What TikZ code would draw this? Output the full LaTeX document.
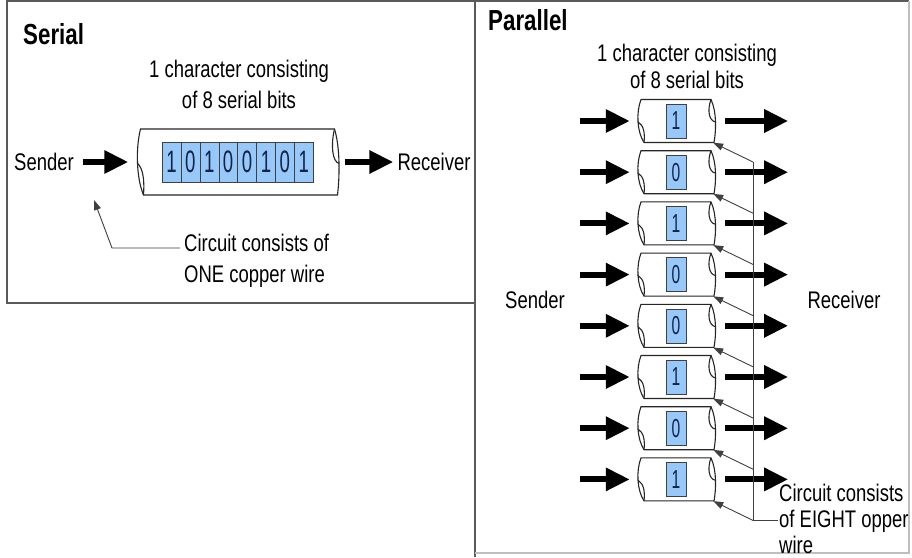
\documentclass[tikz,border=0pt]{standalone}
\usepackage{fontspec}
\setmainfont[FakeStretch=0.77]{Liberation Sans}
\newfontfamily\bitfont[FakeStretch=0.6]{Liberation Sans}
\usetikzlibrary{arrows.meta}
\definecolor{cellblue}{RGB}{150,200,250}
\definecolor{panelgray}{RGB}{90,90,90}
\definecolor{bitink}{RGB}{20,35,70}
\newcommand{\drawcable}[3]{%
  \begin{scope}[shift={(#1.center)}]
    \draw[cableline, fill=white] (-#2,-#3) -- (#2,-#3)
      .. controls (#2+6,-0.4*#3) and (#2+5,0.5*#3) .. (#2+3,#3)
      -- (-#2+3,#3)
      .. controls (-#2-4,0.5*#3) and (-#2-5,-0.4*#3) .. cycle;
    \draw[cableline] (#2,-#3) .. controls (#2-4,-0.5*#3) and (#2-2,0) .. (#2+4.5,0.04*#3);
    \draw[cableline] (-#2-3,0.04*#3) .. controls (-#2+3,0.2*#3) and (-#2+4,0.6*#3) .. (-#2+3,#3);
  \end{scope}}
\begin{document}
\begin{tikzpicture}
  [
    x=1pt, y=-1pt,
    panel/.style={draw=panelgray, line width=1.2pt},
    txt/.style={font=\fontsize{24}{31}\selectfont, inner sep=1pt},
    heading/.style={font=\bfseries\fontsize{29}{29}\selectfont, inner sep=0pt, anchor=west},
    cableline/.style={draw=black!85, line width=1.1pt},
    sbit/.style={draw=black!75, fill=cellblue, minimum width=18.9pt, minimum height=40pt,
      inner sep=0pt, text=bitink, font=\bitfont\fontsize{31}{31}\selectfont},
    pbit/.style={draw=black!75, fill=cellblue, minimum width=20pt, minimum height=34pt,
      inner sep=0pt, text=bitink, font=\bitfont\fontsize{26}{26}\selectfont},
    fatarrow/.style={line width=6pt, -{Triangle[length=24pt,width=22pt]}},
    pointer/.style={draw=black!75, line width=0.9pt, -{Triangle[length=10pt,width=7pt]}},
    wire/.style={draw=black!75, line width=0.9pt}
  ]
  \useasboundingbox[fill=white] (0,0) rectangle (912,557);
  \draw[panel] (7,1) rectangle (475,303);
  \draw[panel] (475,1) -- (909,1);
  \draw[panel] (475,0) -- (475,557);
  \draw[panel, draw=black!25] (475,553) -- (909,553) -- (909,1);

  \node[heading] (stitle) at (23,34) {Serial};
  \node[txt, align=center] (scap) at (239,84) {1 character consisting\\of 8 serial bits};
  \node[txt] (ssend) at (44,162) {Sender};
  \node[txt] (srecv) at (434,162) {Receiver};
  \node[inner sep=0pt, minimum width=194pt, minimum height=66pt] (scable) at (237.5,162) {};
  \drawcable{scable}{97}{33}
  \foreach \b [count=\i] in {1,0,1,0,0,1,0,1}
    \node[sbit] (sb\i) at ({162+18.9*(\i-0.5)},162) {\b};
  \draw[fatarrow] ([xshift=8pt]ssend.east) -- ([xshift=-12pt]scable.west);
  \draw[fatarrow] ([xshift=10pt]scable.east) -- ([xshift=-3pt]srecv.west);
  \node[txt, align=left, anchor=west] (snote) at (183,261) {Circuit consists of\\ONE copper wire};
  \coordinate (sbend) at (112,248);
  \coordinate (stip) at (94,200);
  \draw[pointer] ([xshift=-3pt]snote.west |- sbend) -- (sbend) -- (stip);

  \node[heading] (ptitle) at (488,20) {Parallel};
  \node[txt, align=center, font=\fontsize{24}{27}\selectfont] (pcap) at (687,66) {1 character consisting\\of 8 serial bits};
  \node[txt] (psend) at (535,300) {Sender};
  \node[txt] (precv) at (844,300) {Receiver};
  \foreach \b [count=\i] in {1,0,1,0,0,1,0,1} {
    \node[inner sep=0pt, minimum width=70pt, minimum height=43pt] (p\i) at (676,{121+51.2*(\i-1)}) {};
    \drawcable{p\i}{35}{21.5}
    \node[pbit] (pb\i) at (p\i) {\b};
    \draw[fatarrow] ([xshift=-61pt]p\i.west) -- ([xshift=-11pt]p\i.west);
    \draw[fatarrow] ([xshift=14pt]p\i.east) -- ([xshift=77pt]p\i.east);
    \coordinate (w\i) at (753,{121+51.2*(\i-1)+41});
    \draw[pointer] (w\i) -- ([xshift=2pt]p\i.south east);
  }
  \node[txt, align=left, anchor=west, font=\fontsize{24}{26}\selectfont] (pnote) at (778,519) {Circuit consists\\of EIGHT opper\\wire};
  \draw[wire] (w1) -- (w8) -- (w8 -| pnote.west);
\end{tikzpicture}
\end{document}
